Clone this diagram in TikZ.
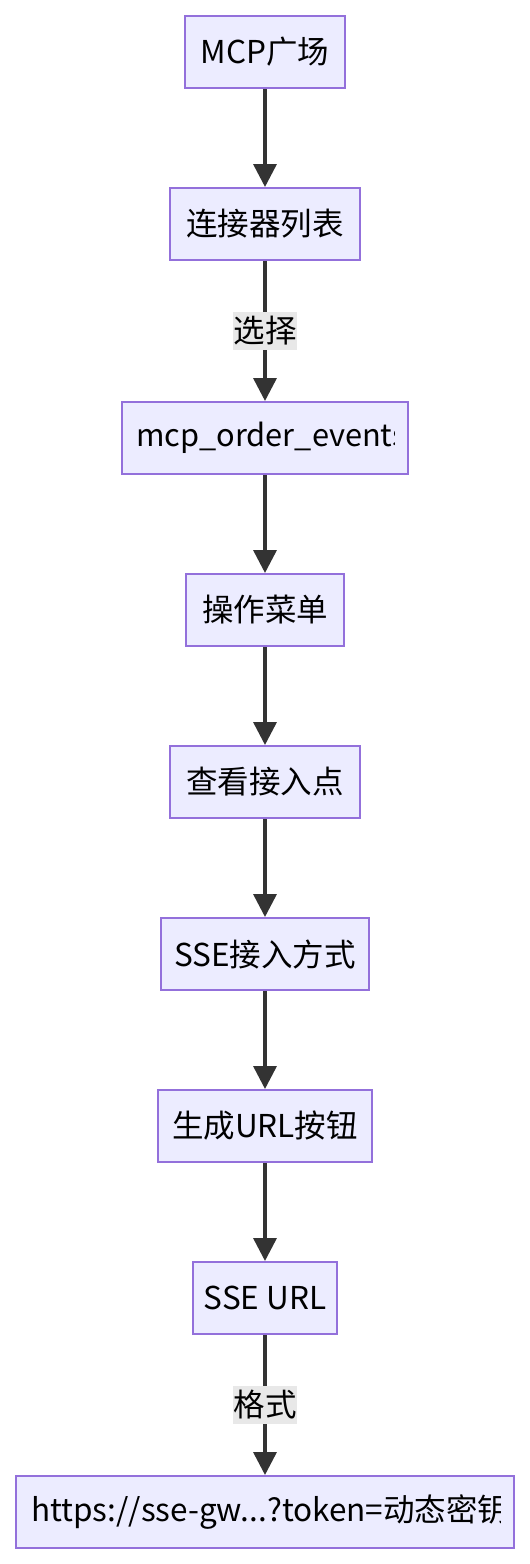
\documentclass[tikz,border=0pt]{standalone}
\usepackage{fontspec}
\setmainfont{Noto Sans CJK SC}
\usetikzlibrary{arrows.meta,positioning}
\definecolor{boxfill}{HTML}{ECECFF}
\definecolor{boxline}{HTML}{9370DB}
\definecolor{edgecol}{HTML}{333333}
\definecolor{lblbg}{HTML}{E8E8E8}
\tikzset{
  box/.style={draw=boxline, fill=boxfill, line width=2pt, minimum height=72pt, inner sep=0pt,
    font=\fontsize{31.5}{38}\selectfont, text=black},
  flow/.style={draw=edgecol, line width=3.5pt, -{Triangle[length=23pt,width=23pt]}},
  lbl/.style={fill=lblbg, inner sep=0pt, minimum width=64pt, minimum height=38pt,
    font=\fontsize{31.5}{38}\selectfont, text=black},
  cliptext/.style={anchor=west, inner sep=0pt, font=\fontsize{31.5}{38}\selectfont, text=black}
}
\begin{document}
\begin{tikzpicture}[x=1pt,y=-1pt]
\useasboundingbox (0,0) rectangle (530,1564);
\node[box, minimum width=160pt] (n1) at (265,52) {MCP广场};
\node[box, minimum width=190pt] (n2) at (265,224) {连接器列表};
\node[box, minimum width=286pt] (n3) at (265,438) {};
\node[box, minimum width=158pt] (n4) at (265,610) {操作菜单};
\node[box, minimum width=190pt] (n5) at (265,782) {查看接入点};
\node[box, minimum width=208pt] (n6) at (265,954) {SSE接入方式};
\node[box, minimum width=214pt] (n7) at (265,1126) {生成URL按钮};
\node[box, minimum width=144pt] (n8) at (265,1298) {SSE URL};
\node[box, minimum width=498pt] (n9) at (265,1512) {};
\begin{scope}
  \clip ([xshift=14pt]n3.south west) rectangle ([xshift=-15pt]n3.north east);
  \node[cliptext, font=\fontsize{30.75}{38}\selectfont] (t3) at ([xshift=15pt]n3.west) {mcp\_order\_events};
\end{scope}
\begin{scope}
  \clip ([xshift=14pt]n9.south west) rectangle ([xshift=-15pt]n9.north east);
  \node[cliptext] (t9) at ([xshift=16pt]n9.west) {https://sse-gw...?token=动态密钥};
\end{scope}
\draw[flow] (n1) -- (n2);
\draw[flow] (n2) -- node[lbl] (l1) {选择} (n3);
\draw[flow] (n3) -- (n4);
\draw[flow] (n4) -- (n5);
\draw[flow] (n5) -- (n6);
\draw[flow] (n6) -- (n7);
\draw[flow] (n7) -- (n8);
\draw[flow] (n8) -- node[lbl] (l2) {格式} (n9);
\end{tikzpicture}
\end{document}
